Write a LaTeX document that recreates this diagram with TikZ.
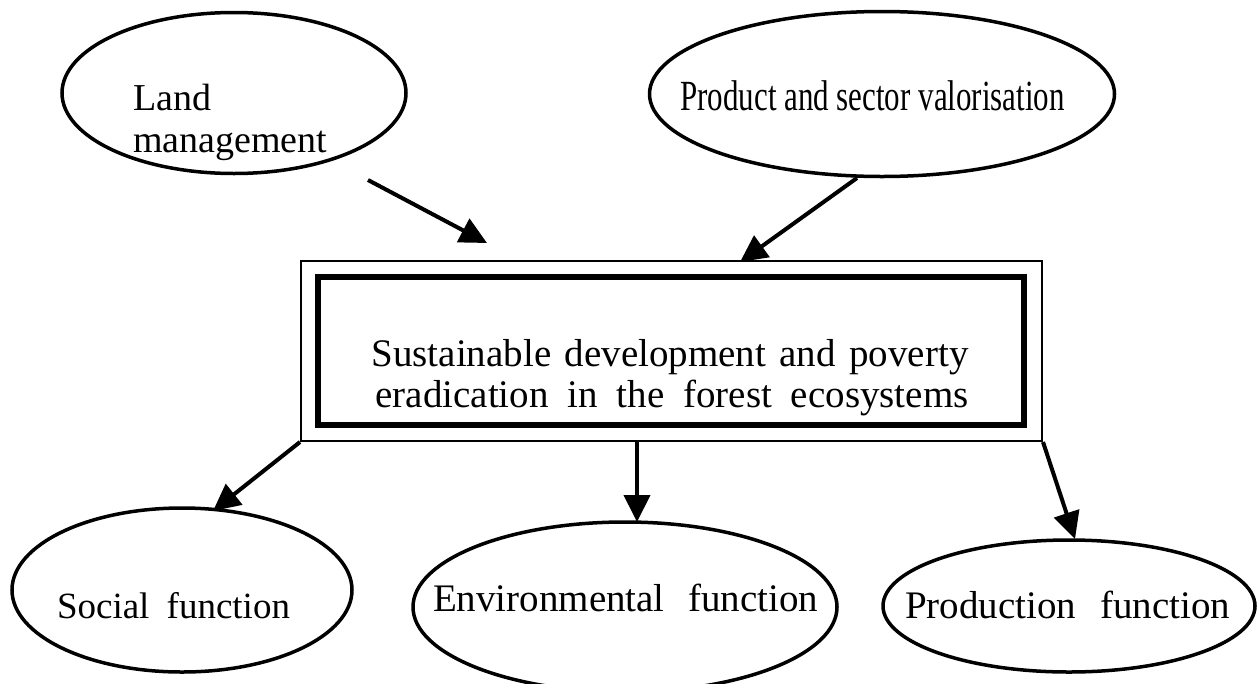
\documentclass[tikz,border=0pt]{standalone}
\usepackage{fontspec}
\setmainfont{Liberation Serif}
\usetikzlibrary{arrows.meta,shapes.geometric}
\begin{document}
\begin{tikzpicture}[x=1pt,y=-1pt,
  oval/.style={draw, ellipse, line width=3.5pt, inner sep=0pt},
  txt/.style={inner sep=0pt, font=\fontsize{39}{42}\selectfont},
  arr/.style={line width=4pt, -{Triangle[length=27pt,width=26pt]}},
  outerbox/.style={draw, rectangle, line width=2pt, inner sep=0pt, minimum width=741pt, minimum height=180pt},
  innerbox/.style={draw, rectangle, line width=6pt, inner sep=0pt, minimum width=706pt, minimum height=148pt}]
\fill[white] (0,0) rectangle (1257,683);
\useasboundingbox (0,0) rectangle (1257,683);

% ellipses
\node[oval, minimum width=344pt, minimum height=161pt] (land) at (234,93) {};
\node[oval, minimum width=465pt, minimum height=165pt] (prod) at (882,94) {};
\node[oval, minimum width=340pt, minimum height=164pt] (social) at (182,590) {};
\node[oval, minimum width=424pt, minimum height=170pt] (env) at (625,607) {};
\node[oval, minimum width=372pt, minimum height=132pt] (prodf) at (1069,606) {};

% boxes
\node[outerbox] (outer) at (671.5,351) {};
\node[innerbox] (inner) at (671,351) {};

% texts
\node[txt, anchor=base west, align=left, font=\fontsize{38}{42}\selectfont] (landt) at (133,152) {Land\\management};
\node[txt, anchor=base] (prodt) at (872.5,110) {\scalebox{0.72}[1]{\fontsize{43}{48}\selectfont Product and sector valorisation}};
\node[txt, anchor=base] (c1) at (670,366) {\makebox[597pt][s]{Sustainable development and poverty}};
\node[txt, anchor=base] (c2) at (672,407) {\makebox[593pt][s]{eradication in the forest ecosystems}};
\node[txt, anchor=base, font=\fontsize{37}{42}\selectfont] (socialt) at (173.5,618) {\makebox[233pt][s]{Social function}};
\node[txt, anchor=base] (envt) at (625.5,611) {\makebox[385pt][s]{Environmental function}};
\node[txt, anchor=base] (prodft) at (1067.5,618) {\makebox[325pt][s]{Production function}};

% connector ends
\coordinate (la1) at (368,180);
\coordinate (la2) at (487,243);
\coordinate (pa1) at (857,178);
\coordinate (pa2) at (740,262);
\coordinate (ma1) at (637,441);
\coordinate (sa2) at (213,511);
\coordinate (ma2) at (637,522);
\coordinate (ra2) at (1075,539);

\draw[arr] (la1) -- (la2);
\draw[arr] (pa1) -- (pa2);
\draw[arr] (outer.south west) -- (sa2);
\draw[arr] (ma1) -- (ma2);
\draw[arr] (outer.south east) -- (ra2);
\end{tikzpicture}
\end{document}
